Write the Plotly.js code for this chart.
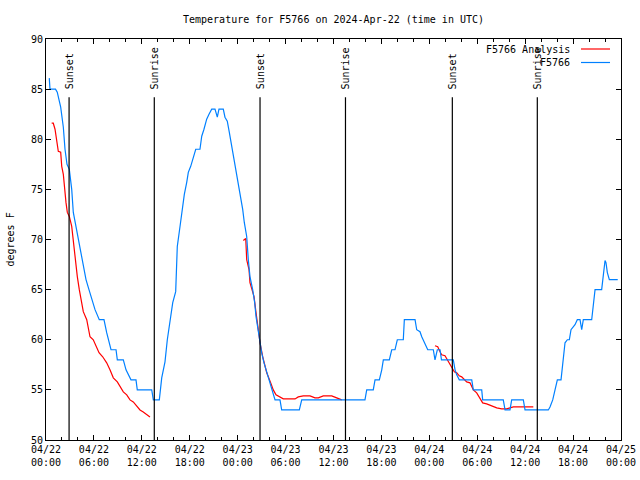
<!DOCTYPE html>
<html>
<head>
<meta charset="utf-8">
<script src="https://cdn.plot.ly/plotly-3.0.1.min.js"></script>
<style>html,body{margin:0;padding:0;background:#fff}#chart{width:640px;height:480px}</style>
</head>
<body>
<div id="chart"></div>
<script>
// Hours since 2024-04-22 00:00 UTC
const obsHours = [0.41,0.50,1.19,1.41,1.84,2.17,2.38,2.63,2.92,3.22,3.42,4.04,4.60,5.01,5.38,5.72,6.14,6.67,7.26,7.60,8.14,8.77,8.93,9.68,10.02,10.64,11.27,11.43,13.24,13.44,14.19,14.49,14.90,15.19,15.53,15.87,16.24,16.37,16.44,16.78,17.07,17.32,17.62,17.82,18.12,18.45,18.75,19.28,19.50,19.78,20.12,20.41,20.75,21.16,21.45,21.66,22.20,22.41,22.70,22.95,23.17,23.38,23.67,23.88,24.08,24.38,24.63,24.83,25.13,25.33,25.54,25.88,26.13,26.30,26.51,26.71,27.01,27.30,27.55,27.84,28.05,28.26,28.68,29.30,29.51,31.72,32.02,39.94,40.16,40.98,41.20,41.74,42.04,42.24,42.99,43.29,43.70,43.99,44.74,44.87,46.21,46.42,46.83,47.05,47.33,47.58,47.80,48.50,48.71,49.00,49.34,49.52,49.75,51.00,51.22,51.43,51.75,53.31,53.51,54.56,54.68,57.26,57.48,58.10,58.31,59.77,59.98,62.90,63.11,63.45,63.74,64.03,64.49,64.70,64.86,64.99,65.28,65.53,65.74,66.03,66.24,66.53,66.87,67.08,67.28,68.33,68.53,68.75,69.58,69.78,70.00,70.12,70.29,70.54,71.59];
const obsTemp = [86.1,85,85,84.7,83.2,81.2,79,77.5,77,75,72.7,70,67.7,66,65,64,63,62,62,60.7,59,59,58,58,57,56,56,55,55,54,54,56.2,57.8,60,62,63.7,64.8,67,69.3,71.3,73,74.5,75.7,76.7,77.3,78.3,79,79,80.3,81,82,82.5,83,83,82.2,83,83,82.2,81.8,80.7,79.7,78.7,77.3,76.3,75.5,74.3,73,71.7,70.3,68,66.3,65,63.7,62.3,61.2,60,58.7,57.7,57,56.3,55.7,55,54,54,53,53,54,54,55,55,56,56,57,58,58,59,59,60,60,62,62,61,60.8,60.3,59.8,59.3,59,59,58,59,59,58,58,58,57,56.5,56,56,55,55,54,54,53,53,54,54,53,53,53.3,54,55,56,56,57.5,58.7,59.7,60,60,61,61.3,61.5,62,62,61,62,62,63.5,65,65,66.5,67.9,67.7,66.7,66,66];

const anaHours1 = [0.71,0.91,1.13,1.34,1.54,1.84,1.97,2.17,2.25,2.50,2.67,2.92,3.22,3.42,3.63,3.92,4.17,4.38,4.67,5.10,5.30,5.51,5.92,6.35,6.64,7.10,7.60,8.01,8.43,8.93,9.27,9.68,10.11,10.52,10.93,11.36,11.77,12.18,12.61,13.02];
const anaTemp1 = [81.6,81.6,81,80,78.8,78.7,77.3,76.5,75.7,73.7,72.7,72.3,71.3,69.7,68.3,66.3,65,64,62.8,62,61.2,60.3,60,59.3,58.7,58.3,57.7,57,56.2,55.8,55.3,54.8,54.5,54,53.8,53.4,53,52.8,52.5,52.3];
const anaHours2 = [24.71,25.01,25.13,25.42,25.54,25.76,26.05,26.30,26.58,26.80,27.14,27.42,27.64,28.14,28.46,28.80,29.21,29.71,31.18,31.59,32.22,33.06,33.68,34.10,34.72,35.78,36.40,37.03];
const anaTemp2 = [69.9,70.1,68,67,65.7,65,64.3,62.7,60.8,59.7,58.3,57.2,56.7,55.7,55,54.5,54.3,54.1,54.1,54.3,54.4,54.4,54.2,54.2,54.4,54.4,54.2,54];
const anaHours3 = [48.71,49.05,49.34,49.55,49.96,50.25,50.59,50.80,51.13,51.43,51.75,52.05,52.34,52.68,53.09,53.51,53.93,54.26,54.68,55.18,55.81,56.44,57.06,57.69,58.10,58.52,59.14,61.02];
const anaTemp3 = [59.4,59.3,58.8,58.5,58.4,58,57.5,57.2,56.8,56.7,56.4,56.3,56.1,55.8,55.7,55,54.7,54.2,53.7,53.6,53.4,53.2,53.1,53.1,53.2,53.3,53.3,53.3];

const eventNames = ["Sunset","Sunrise","Sunset","Sunrise","Sunset","Sunrise"];
const eventHours = [2.89,13.56,26.80,37.50,50.88,61.52];

const yTicks = [50,55,60,65,70,75,80,85,90];

const T0 = Date.UTC(2024,3,22,0,0,0);
function toDate(h){
  const d = new Date(T0 + Math.round(h*3600000));
  return d.toISOString().slice(0,19).replace('T',' ');
}

const anaX = [], anaY = [];
[[anaHours1,anaTemp1],[anaHours2,anaTemp2],[anaHours3,anaTemp3]].forEach((seg,i)=>{
  if(i>0){anaX.push(null);anaY.push(null);}
  seg[0].forEach((h,j)=>{anaX.push(toDate(h));anaY.push(seg[1][j]);});
});

const MONO = 'DejaVu Sans Mono, monospace';

const traces = [
  {x: anaX, y: anaY, type:'scatter', mode:'lines', name:'F5766 Analysis',
   connectgaps:false, line:{color:'rgb(255,0,0)', width:1.2}, showlegend:false},
  {x: obsHours.map(toDate), y: obsTemp, type:'scatter', mode:'lines', name:'F5766',
   line:{color:'rgb(0,128,255)', width:1.2}, showlegend:false}
];

const shapes = eventHours.map(h=>({type:'line', xref:'x', yref:'y', x0:toDate(h), x1:toDate(h), y0:50, y1:84.2,
  line:{color:'black', width:1.2}}));

// legend line samples
const plotL=46, plotW=575, plotT=39, plotH=401;
const px = v => (v-plotL)/plotW;
const py = v => (plotT+plotH-v)/plotH;
shapes.push({type:'line', xref:'paper', yref:'paper', x0:px(581), x1:px(610), y0:py(49), y1:py(49), line:{color:'rgb(255,0,0)', width:1.2}});
shapes.push({type:'line', xref:'paper', yref:'paper', x0:px(581), x1:px(610), y0:py(62.5), y1:py(62.5), line:{color:'rgb(0,128,255)', width:1.2}});

const annotations = eventHours.map((h,i)=>({x:toDate(h), y:84.8, xref:'x', yref:'y', text:eventNames[i],
  textangle:-90, showarrow:false, xanchor:'center', yanchor:'bottom', font:{family:MONO, size:10, color:'black'}}));
annotations.push({xref:'paper', yref:'paper', x:px(572), y:py(49), text:'F5766 Analysis', showarrow:false,
  xanchor:'right', yanchor:'middle', font:{family:MONO, size:10, color:'black'}});
annotations.push({xref:'paper', yref:'paper', x:px(572), y:py(62.5), text:'F5766', showarrow:false,
  xanchor:'right', yanchor:'middle', font:{family:MONO, size:10, color:'black'}});
annotations.push({xref:'paper', yref:'paper', x:0, xshift:-36, y:0.5, text:'degrees F', textangle:-90, showarrow:false,
  xanchor:'center', yanchor:'middle', font:{family:MONO, size:10, color:'black'}});

const layout = {
  width:640, height:480,
  margin:{l:46, r:19, t:39, b:40, pad:0},
  paper_bgcolor:'white', plot_bgcolor:'white',
  font:{family:MONO, size:10, color:'black'},
  showlegend:false,
  title:{text:'Temperature for F5766 on 2024-Apr-22 (time in UTC)', xref:'paper', x:0.5, xanchor:'center',
    yref:'container', y:1-19/480, yanchor:'middle', font:{family:MONO, size:10, color:'black'}},
  xaxis:{type:'date', range:[toDate(0), toDate(72)], tick0:toDate(0), dtick:6*3600000,
    tickformat:'%m/%d\n%H:%M', ticks:'inside', ticklen:5, tickcolor:'black', tickwidth:1,
    showline:true, linecolor:'black', linewidth:1, mirror:'ticks', showgrid:false, zeroline:false,
    minor:{dtick:2*3600000, ticks:'inside', ticklen:3, tickcolor:'black', showgrid:false},
    tickfont:{family:MONO, size:10, color:'black'}},
  yaxis:{range:[50,90], tickvals:yTicks, ticks:'inside', ticklen:5, tickcolor:'black', tickwidth:1,
    showline:true, linecolor:'black', linewidth:1, mirror:'ticks', showgrid:false, zeroline:false,
    tickfont:{family:MONO, size:10, color:'black'}},
  shapes:shapes,
  annotations:annotations
};

Plotly.newPlot('chart', traces, layout, {displayModeBar:false, staticPlot:true});
</script>
</body>
</html>
